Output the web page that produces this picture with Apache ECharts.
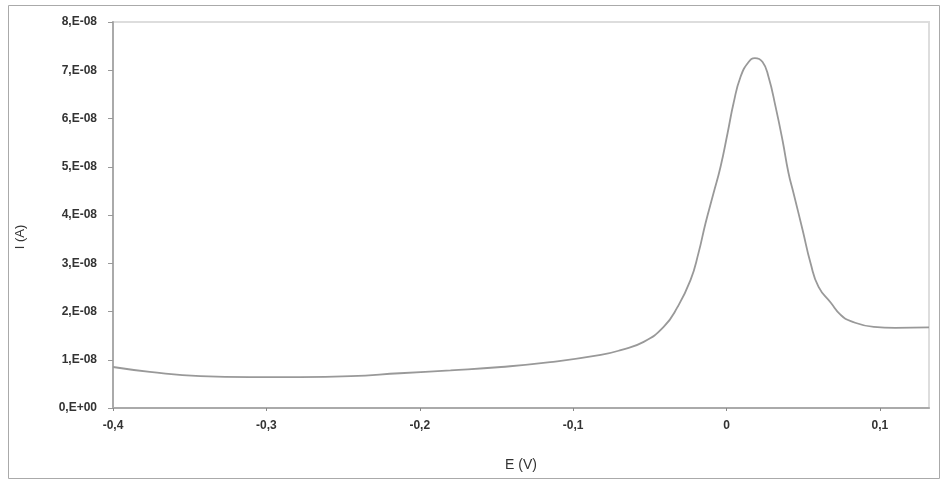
<!DOCTYPE html>
<html>
<head>
<meta charset="utf-8">
<script src="https://cdn.jsdelivr.net/npm/echarts@6/dist/echarts.min.js"></script>
<style>
  html, body { margin: 0; padding: 0; background: #fff; }
  #chart { width: 941px; height: 481px; }
</style>
</head>
<body>
<div id="chart"></div>
<script>
// potential (V)
var potential = [-0.4, -0.376, -0.343, -0.311, -0.278, -0.245, -0.213, -0.18, -0.147, -0.115,
  -0.082, -0.069, -0.054, -0.041, -0.032, -0.0235, -0.0183, -0.0137, -0.0085, -0.0039,
  0.0007, 0.0046, 0.0091, 0.0144, 0.0185, 0.0235, 0.0274, 0.032, 0.0365, 0.0404,
  0.0437, 0.0496, 0.0548, 0.060, 0.068, 0.0744, 0.081, 0.096, 0.11, 0.132]
// current, in units of 1e-8 A
var current = [0.85, 0.75, 0.66, 0.64, 0.64, 0.66, 0.72, 0.78, 0.85, 0.95,
  1.10, 1.20, 1.37, 1.68, 2.09, 2.65, 3.21, 3.83, 4.45, 5.0,
  5.70, 6.32, 6.86, 7.17, 7.25, 7.17, 6.86, 6.24, 5.55, 4.87,
  4.45, 3.69, 3.0, 2.51, 2.18, 1.93, 1.80, 1.68, 1.66, 1.67]
var yTicks = ['0,E+00', '1,E-08', '2,E-08', '3,E-08', '4,E-08', '5,E-08', '6,E-08', '7,E-08', '8,E-08']

var myChart = echarts.init(document.getElementById('chart'));
var points = []
for (var i = 0; i < potential.length; i++) {
  points.push([potential[i], current[i]])
}
var labelStyle = {
  color: '#333',
  fontSize: 12,
  fontWeight: 'bold',
  fontFamily: 'Liberation Sans, Arial, sans-serif'
}
var option = {
  backgroundColor: '#fff',
  animation: false,
  graphic: [
    {
      type: 'rect',
      shape: { x: 8.5, y: 5.5, width: 931, height: 473 },
      style: { fill: 'none', stroke: '#aaa', lineWidth: 1 },
      z: -1
    },
    {
      type: 'text',
      x: 20,
      y: 237,
      rotation: Math.PI / 2,
      style: {
        text: 'I (A)',
        fill: '#333',
        fontSize: 13,
        fontFamily: 'Liberation Sans, Arial, sans-serif',
        align: 'center',
        verticalAlign: 'middle'
      }
    }
  ],
  grid: {
    left: 113,
    top: 22,
    right: 12,
    bottom: 73,
    show: true,
    borderColor: '#ddd',
    borderWidth: 2
  },
  xAxis: {
    type: 'value',
    min: -0.4,
    max: 0.132,
    interval: 0.1,
    name: 'E (V)',
    nameLocation: 'middle',
    nameGap: 50,
    nameTextStyle: { color: '#333', fontSize: 14, fontFamily: 'Liberation Sans, Arial, sans-serif' },
    axisLine: { onZero: false, lineStyle: { color: '#aaa', width: 2 } },
    axisTick: { show: true, length: 3, lineStyle: { color: '#888' } },
    splitLine: { show: false },
    axisLabel: Object.assign({
      margin: 12,
      showMaxLabel: false,
      formatter: function (v) {
        return (Math.round(v * 10) / 10).toString().replace('.', ',')
      }
    }, labelStyle)
  },
  yAxis: {
    type: 'value',
    min: 0,
    max: 8,
    interval: 1,
    axisLine: { show: true, onZero: false, lineStyle: { color: '#aaa', width: 2 } },
    axisTick: { show: true, length: 5, lineStyle: { color: '#999' } },
    splitLine: { show: false },
    axisLabel: Object.assign({
      margin: 16,
      formatter: function (v) {
        return yTicks[Math.round(v)]
      }
    }, labelStyle)
  },
  series: [
    {
      type: 'line',
      data: points,
      smooth: 0.5,
      showSymbol: false,
      lineStyle: { color: '#999', width: 1.8 }
    }
  ]
};
myChart.setOption(option);
window.addEventListener('resize', function () {
  myChart.resize();
});
</script>
</body>
</html>
